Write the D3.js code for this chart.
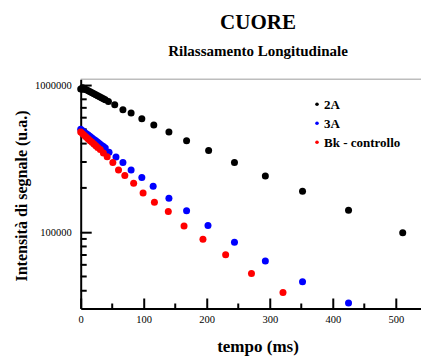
<!DOCTYPE html>
<html>
<head>
<meta charset="utf-8">
<script src="https://cdn.jsdelivr.net/npm/d3@7"></script>
<style>
  body { margin: 0; background: #fff; }
  text { font-family: "Liberation Serif", "Times New Roman", serif; }
</style>
</head>
<body>
<div id="chart"></div>
<script>
// data (time in ms, intensity in u.a.)
var t2A = [0, 3, 6, 9, 12, 15, 18, 21, 24, 27, 30, 33, 36, 39,
  44, 54, 67, 80, 97, 116, 140, 168, 203, 244, 293, 352, 425, 511];
var v2A = [940000, 960000, 945000, 930000, 915000, 901000, 887000, 873000, 859000, 845000, 832000, 819000, 806000, 793000,
  774000, 735000, 680000, 645000, 591000, 536000, 479000, 418000, 359000, 298000, 241000, 190000, 141000, 99000];

var t3A = [0, 3, 6, 9, 12, 15, 18, 21, 24, 27, 30, 33, 36,
  39, 45, 56, 67, 80, 97, 115, 140, 168, 202, 244, 293, 352, 425];
var v3A = [500000, 489000, 478000, 467000, 457000, 447000, 437000, 427000, 418000, 408000, 399000, 390000, 382000,
  373000, 350000, 324000, 298000, 265000, 235000, 205000, 170000, 140000, 111000, 85500, 63700, 46000, 33000];

var tBk = [0, 3, 6, 9, 12, 15, 18, 21, 24, 27,
  31, 36, 42, 51, 60, 70, 84, 99, 117, 139, 164, 194, 230, 271, 321];
var vBk = [479000, 467000, 454000, 442000, 430000, 419000, 408000, 397000, 387000, 376000,
  365000, 345000, 325000, 298000, 265000, 243000, 215000, 185000, 160000, 138000, 110000, 89600, 70300, 52300, 38900];

var seriesNames = ["2A", "3A", "Bk - controllo"];
var seriesColors = ["#000000", "#0000ff", "#ff0000"];

var xMajor = [0, 100, 200, 300, 400, 500];
var xMinor = [50, 150, 250, 350, 450];
var yMajor = [100000, 1000000];
var yMinor = [40000, 50000, 60000, 70000, 80000, 90000,
  200000, 300000, 400000, 500000, 600000, 700000, 800000, 900000];

var svgWidth = 421;
var svgHeight = 360;

var margin = { top: 79.3, right: 0, bottom: 51.5, left: 80.7 };
var width = svgWidth - margin.left - margin.right;
var height = svgHeight - margin.top - margin.bottom;

var svg = d3.select("#chart")
  .append("svg")
  .attr("width", svgWidth)
  .attr("height", svgHeight);

var chartGroup = svg.append("g")
  .attr("transform", `translate(${margin.left}, ${margin.top})`);

var xScale = d3.scaleLinear()
  .domain([0, 540])
  .range([0, width]);

var yScale = d3.scaleLog()
  .domain([30300, 1094000])
  .range([height, 0]);

// titles
svg.append("text")
  .attr("x", 258).attr("y", 29)
  .attr("text-anchor", "middle")
  .attr("font-weight", "bold")
  .attr("font-size", 21)
  .text("CUORE");

svg.append("text")
  .attr("x", 258).attr("y", 56)
  .attr("text-anchor", "middle")
  .attr("font-weight", "bold")
  .attr("font-size", 15)
  .text("Rilassamento Longitudinale");

// top grey frame line
chartGroup.append("line")
  .attr("x1", 0).attr("x2", width)
  .attr("y1", 0).attr("y2", 0)
  .attr("stroke", "#bdbdbd")
  .attr("stroke-width", 1.5);

// x axis, ticks pointing up
var bottomAxis = d3.axisBottom(xScale)
  .tickValues(xMajor)
  .tickSizeInner(-10)
  .tickSizeOuter(0)
  .tickPadding(7)
  .tickFormat(d3.format("d"));

var xAxisG = chartGroup.append("g")
  .attr("transform", `translate(0, ${height})`)
  .call(bottomAxis);

xAxisG.selectAll(".minor")
  .data(xMinor)
  .enter()
  .append("line")
  .attr("class", "minor")
  .attr("x1", d => xScale(d)).attr("x2", d => xScale(d))
  .attr("y1", 0).attr("y2", -5);

// y axis, ticks pointing right
var leftAxis = d3.axisLeft(yScale)
  .tickValues(yMajor)
  .tickSizeInner(-11)
  .tickSizeOuter(0)
  .tickPadding(9)
  .tickFormat(d3.format("d"));

var yAxisG = chartGroup.append("g")
  .call(leftAxis);

yAxisG.selectAll(".minor")
  .data(yMinor)
  .enter()
  .append("line")
  .attr("class", "minor")
  .attr("x1", 0).attr("x2", 6)
  .attr("y1", d => yScale(d)).attr("y2", d => yScale(d));

chartGroup.selectAll(".domain, .tick line, .minor")
  .attr("stroke", "#000")
  .attr("stroke-width", 2);

chartGroup.selectAll(".tick text")
  .attr("font-size", 10.5)
  .attr("fill", "#000");

// points
var allSeries = [
  t2A.map((t, i) => ({ t: t, v: v2A[i] })),
  t3A.map((t, i) => ({ t: t, v: v3A[i] })),
  tBk.map((t, i) => ({ t: t, v: vBk[i] }))
];

allSeries.forEach((pts, k) => {
  chartGroup.append("g")
    .selectAll("circle")
    .data(pts)
    .enter()
    .append("circle")
    .attr("cx", d => xScale(d.t))
    .attr("cy", d => yScale(d.v))
    .attr("r", 3.5)
    .attr("fill", seriesColors[k]);
});

// legend
var legend = svg.append("g")
  .attr("transform", "translate(317, 104.3)");

seriesNames.forEach((name, k) => {
  var row = legend.append("g")
    .attr("transform", `translate(0, ${k * 19})`);
  row.append("circle")
    .attr("r", 1.8)
    .attr("fill", seriesColors[k]);
  row.append("text")
    .attr("x", 7).attr("y", 4.5)
    .attr("font-weight", "bold")
    .attr("font-size", 13)
    .text(name);
});

// axis labels
svg.append("text")
  .attr("transform", "translate(27, 196) rotate(-90)")
  .attr("text-anchor", "middle")
  .attr("font-weight", "bold")
  .attr("font-size", 16)
  .text("Intensità di segnale (u.a.)");

svg.append("text")
  .attr("x", 258).attr("y", 352)
  .attr("text-anchor", "middle")
  .attr("font-weight", "bold")
  .attr("font-size", 17)
  .text("tempo (ms)");
</script>
</body>
</html>
